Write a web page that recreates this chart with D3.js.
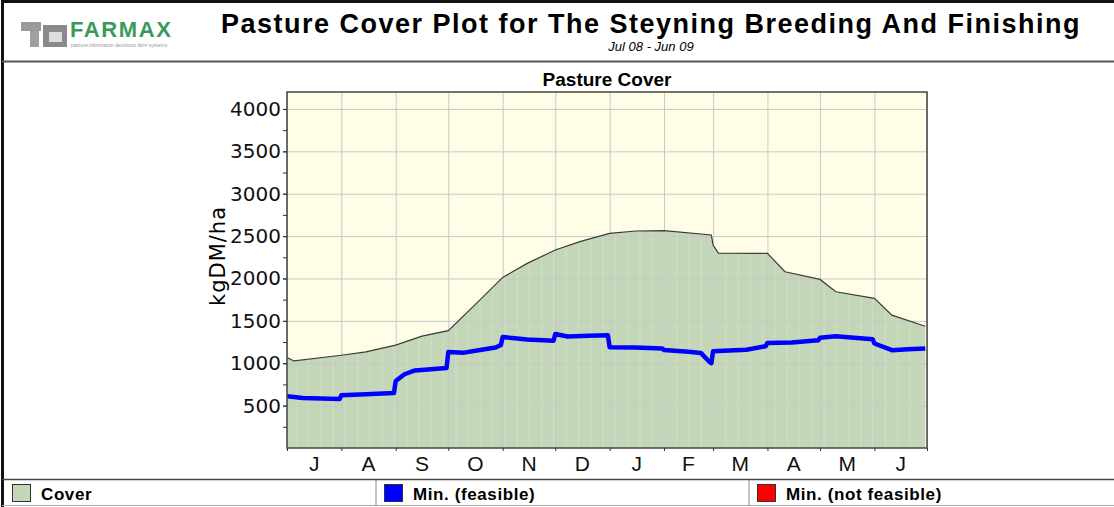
<!DOCTYPE html>
<html>
<head>
<meta charset="utf-8">
<script src="https://cdn.jsdelivr.net/npm/d3@7"></script>
<style>
  body { margin: 0; background: #fff; }
  svg { display: block; font-family: "Liberation Sans", Arial, sans-serif; }
  .axis path, .axis line { stroke: #333; }
  .grid line { stroke: #c8c8c8; }
  .grid path { display: none; }
</style>
</head>
<body>
<div id="chart"></div>
<script>
// Data: pasture cover (kgDM/ha)
const coverDates = ["2008-07-01","2008-07-05","2008-08-01","2008-08-15","2008-09-01","2008-09-16",
  "2008-10-01","2008-10-15","2008-11-01","2008-11-15","2008-12-01","2008-12-15","2009-01-01",
  "2009-01-16","2009-02-01","2009-02-28","2009-03-01","2009-03-04","2009-04-01","2009-04-11",
  "2009-05-01","2009-05-10","2009-06-01","2009-06-11","2009-06-30"];
const coverValues = [1067,1027,1094,1134,1213,1319,1385,1665,2013,2178,2336,2434,2533,
  2560,2564,2513,2395,2300,2297,2079,1989,1843,1765,1567,1437];

// Min. (feasible) cover
const minDates = ["2008-07-01","2008-07-10","2008-07-31","2008-08-01","2008-08-15","2008-08-31",
  "2008-09-01","2008-09-06","2008-09-12","2008-09-30","2008-10-01","2008-10-10","2008-10-20",
  "2008-10-28","2008-10-31","2008-11-01","2008-11-05","2008-11-15","2008-11-30","2008-12-01",
  "2008-12-08","2008-12-20","2008-12-31","2009-01-01","2009-01-15","2009-01-31","2009-02-01",
  "2009-02-15","2009-02-22","2009-02-27","2009-02-28","2009-03-01","2009-03-20","2009-03-31",
  "2009-04-01","2009-04-15","2009-04-30","2009-05-01","2009-05-10","2009-05-31","2009-06-01",
  "2009-06-11","2009-06-20","2009-06-30"];
const minValues = [610,590,578,622,635,649,790,870,915,944,1134,1125,1160,1185,1215,1310,1300,
  1280,1265,1345,1315,1325,1330,1190,1185,1175,1155,1135,1122,1015,1000,1140,1160,1201,1240,
  1245,1272,1300,1319,1284,1233,1154,1165,1174];

const monthLabels = ["J","A","S","O","N","D","J","F","M","A","M","J"];
const yTicks = [500,1000,1500,2000,2500,3000,3500,4000];
const legendLabels = ["Cover","Min. (feasible)","Min. (not feasible)"];
const legendColors = ["#c4d6b8","#0000ff","#ff0000"];

const W = 1114, H = 507;
const plot = { left: 287, right: 927, top: 92, bottom: 448 };
const parse = d3.timeParse("%Y-%m-%d");

const cover = coverDates.map((d, i) => ({ date: parse(d), value: coverValues[i] }));
const mins = minDates.map((d, i) => ({ date: parse(d), value: minValues[i] }));

const svg = d3.select("#chart").append("svg")
  .attr("width", W).attr("height", H);

// Frame and header
svg.append("line").attr("x1", 2).attr("x2", W).attr("y1", 1.5).attr("y2", 1.5)
  .attr("stroke", "#111").attr("stroke-width", 3);
svg.append("line").attr("x1", 2.5).attr("x2", 2.5).attr("y1", 0).attr("y2", H)
  .attr("stroke", "#111").attr("stroke-width", 3);
svg.append("line").attr("x1", 2).attr("x2", W).attr("y1", 61.5).attr("y2", 61.5)
  .attr("stroke", "#555").attr("stroke-width", 2);

// Logo
const logo = svg.append("g").attr("transform", "translate(21,20)");
logo.append("rect").attr("x", 0).attr("y", 2).attr("width", 20).attr("height", 9).attr("fill", "#9a9a9a");
logo.append("rect").attr("x", 22).attr("y", 5).attr("width", 24).attr("height", 22).attr("fill", "#8a8a8a");
logo.append("rect").attr("x", 28).attr("y", 12).attr("width", 13).attr("height", 10).attr("fill", "#ddd");
logo.append("rect").attr("x", 9).attr("y", 11).attr("width", 9).attr("height", 16).attr("fill", "#a0a0a0");
logo.append("text").attr("x", 49).attr("y", 17)
  .attr("font-size", 22).attr("font-weight", "bold").attr("fill", "#3a9a5a")
  .attr("letter-spacing", 1.6).text("FARMAX");
logo.append("text").attr("x", 50).attr("y", 27)
  .attr("font-size", 5).attr("fill", "#999").text("pasture   information   decisions   farm   systems");

svg.append("text").attr("x", 651).attr("y", 33)
  .attr("text-anchor", "middle").attr("font-size", 27).attr("font-weight", "bold")
  .attr("letter-spacing", 1.5)
  .text("Pasture Cover Plot for The Steyning Breeding And Finishing");
svg.append("text").attr("x", 651).attr("y", 51)
  .attr("text-anchor", "middle").attr("font-size", 13).attr("font-style", "italic")
  .text("Jul 08 - Jun 09");

// Scales
const x = d3.scaleTime()
  .domain([parse("2008-07-01"), parse("2009-07-01")])
  .range([plot.left, plot.right]);
const y = d3.scaleLinear()
  .domain([0, 4200])
  .range([plot.bottom, plot.top]);

// Chart title
svg.append("text").attr("x", (plot.left + plot.right) / 2).attr("y", 86)
  .attr("text-anchor", "middle").attr("font-size", 19).attr("font-weight", "bold")
  .text("Pasture Cover");

// Plot background
svg.append("rect")
  .attr("x", plot.left).attr("y", plot.top)
  .attr("width", plot.right - plot.left).attr("height", plot.bottom - plot.top)
  .attr("fill", "#fffde6");

// Cover area
const area = d3.area()
  .x(d => x(d.date)).y0(y(0)).y1(d => y(d.value));
svg.append("clipPath").attr("id", "coverClip")
  .append("path").datum(cover).attr("d", area);
svg.append("path").datum(cover)
  .attr("d", area).attr("fill", "#c4d6b8");

// faint weekly stripes inside the cover fill
const weeks = d3.timeWeek.range(x.domain()[0], x.domain()[1], 1);
svg.append("g").attr("clip-path", "url(#coverClip)")
  .selectAll("line").data(weeks).join("line")
  .attr("x1", d => x(d) + 0.5).attr("x2", d => x(d) + 0.5)
  .attr("y1", plot.top).attr("y2", plot.bottom)
  .attr("stroke", "#fff").attr("stroke-opacity", 0.12).attr("stroke-width", 2);

// Grid lines
const months = x.ticks(d3.timeMonth.every(1));
svg.append("g").attr("class", "grid")
  .attr("transform", `translate(0,${plot.bottom})`)
  .call(d3.axisBottom(x).tickValues(months).tickSize(-(plot.bottom - plot.top)).tickFormat(""));
svg.append("g").attr("class", "grid")
  .attr("transform", `translate(${plot.left},0)`)
  .call(d3.axisLeft(y).tickValues(yTicks).tickSize(-(plot.right - plot.left)).tickFormat(""));

// Cover line
const line = d3.line().x(d => x(d.date)).y(d => y(d.value));
svg.append("path").datum(cover)
  .attr("d", line).attr("fill", "none").attr("stroke", "#3a3a3a").attr("stroke-width", 1.2);

// Min. (feasible) line
svg.append("path").datum(mins)
  .attr("d", line).attr("fill", "none").attr("stroke", "#0000ff")
  .attr("stroke-width", 4.5).attr("stroke-linejoin", "round");

// Plot frame
svg.append("rect")
  .attr("x", plot.left).attr("y", plot.top)
  .attr("width", plot.right - plot.left).attr("height", plot.bottom - plot.top)
  .attr("fill", "none").attr("stroke", "#444").attr("stroke-width", 1.5);

// Y axis
const yMinor = d3.range(250, 4200, 250);
svg.append("g").attr("class", "axis")
  .attr("transform", `translate(${plot.left},0)`)
  .call(d3.axisLeft(y).tickValues(yMinor).tickSize(4).tickFormat("").tickSizeOuter(0))
  .call(g => g.select(".domain").remove());
const yAxis = svg.append("g").attr("class", "axis")
  .attr("transform", `translate(${plot.left},0)`)
  .call(d3.axisLeft(y).tickValues(yTicks).tickSize(4).tickPadding(2)
    .tickFormat(d3.format("d")).tickSizeOuter(0));
yAxis.select(".domain").remove();
yAxis.selectAll("text")
  .attr("font-family", "'DejaVu Sans', Verdana, sans-serif")
  .attr("font-size", 20).attr("fill", "#111");

svg.append("text")
  .attr("transform", "translate(225,256) rotate(-90)")
  .attr("text-anchor", "middle").attr("font-size", 21)
  .attr("font-family", "'DejaVu Sans', Verdana, sans-serif")
  .attr("letter-spacing", 1)
  .text("kgDM/ha");

// X axis: month ticks at boundaries, labels centred in each month
const xAxis = svg.append("g").attr("class", "axis")
  .attr("transform", `translate(0,${plot.bottom})`)
  .call(d3.axisBottom(x).tickValues(months).tickSize(3).tickFormat("").tickSizeOuter(0));
xAxis.select(".domain").remove();
svg.append("g").selectAll("text")
  .data(months)
  .join("text")
  .attr("x", d => (x(d) + x(d3.timeMonth.offset(d, 1))) / 2)
  .attr("y", 471)
  .attr("text-anchor", "middle")
  .attr("font-size", 21)
  .attr("fill", "#111")
  .text((d, i) => monthLabels[i]);

// Legend row
svg.append("line").attr("x1", 2).attr("x2", W).attr("y1", 479.5).attr("y2", 479.5)
  .attr("stroke", "#444").attr("stroke-width", 1.5);
svg.append("line").attr("x1", 2).attr("x2", W).attr("y1", 505.5).attr("y2", 505.5)
  .attr("stroke", "#aaa").attr("stroke-width", 1);
const legendX = [4, 376, 749];
legendLabels.forEach((lab, i) => {
  const g = svg.append("g").attr("transform", `translate(${legendX[i]},480)`);
  if (i > 0) {
    g.append("line").attr("x1", 0).attr("x2", 0).attr("y1", 0).attr("y2", 26)
      .attr("stroke", "#888");
  }
  g.append("rect").attr("x", 8.5).attr("y", 4.5).attr("width", 18).attr("height", 17)
    .attr("fill", legendColors[i]).attr("stroke", "#333").attr("stroke-width", 1);
  g.append("text").attr("x", 37).attr("y", 19.5)
    .attr("font-size", 17).attr("font-weight", "bold")
    .attr("letter-spacing", 0.6).text(lab);
});
</script>
</body>
</html>
